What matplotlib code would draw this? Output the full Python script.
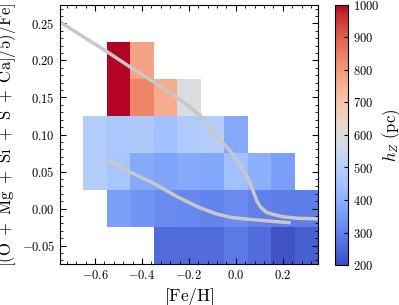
import numpy as np
import matplotlib
matplotlib.use('Agg')
import matplotlib.pyplot as plt
from matplotlib.ticker import AutoMinorLocator, MultipleLocator

plt.rcParams['font.family'] = 'serif'
plt.rcParams['font.serif'] = ['cmr10']
plt.rcParams['mathtext.fontset'] = 'cm'
plt.rcParams['axes.formatter.use_mathtext'] = True

# bin edges
feh_edges = np.arange(-0.65, 0.36, 0.1)
alpha_edges = np.arange(-0.075, 0.226, 0.05)

# scale height h_Z (pc) per bin, rows from low to high [alpha/Fe]
nan = np.nan
hz_m005 = [nan, nan, nan, 262, 258, 262, 285, 262, 215, 235]
hz_p000 = [nan, 360, 340, 320, 315, 305, 320, 298, 292, 292]
hz_p005 = [490, 462, 385, 372, 385, 378, 445, 400, 362, nan]
hz_p010 = [490, 470, 478, 448, 480, 492, 385, nan, nan, nan]
hz_p015 = [nan, 1000, 840, 760, 590, nan, nan, nan, nan, nan]
hz_p020 = [nan, 1000, 780, nan, nan, nan, nan, nan, nan, nan]

# model tracks
track1_feh = [-0.75, -0.55, -0.45, -0.35, -0.25, -0.2, -0.15, -0.1, -0.05, -0.017,
              0.02, 0.05, 0.072, 0.09, 0.105, 0.13, 0.16, 0.2, 0.26, 0.35]
track1_alpha = [0.252, 0.212, 0.191, 0.171, 0.150, 0.138, 0.125, 0.105, 0.087, 0.075,
                0.058, 0.042, 0.025, 0.010, 0.002, -0.005, -0.008, -0.011, -0.013, -0.014]
track2_feh = [-0.55, -0.45, -0.35, -0.25, -0.157, -0.085, -0.02, 0.055, 0.13, 0.226]
track2_alpha = [0.066, 0.049, 0.034, 0.016, 0.0016, -0.007, -0.012, -0.0145, -0.0165, -0.019]

hz = np.ma.masked_invalid(np.array([hz_m005, hz_p000, hz_p005, hz_p010, hz_p015, hz_p020]))

fig = plt.figure(figsize=(3.99, 3.05), dpi=100)
ax = fig.add_axes([0.150, 0.134, 0.647, 0.850])
cax = fig.add_axes([0.8396, 0.131, 0.032, 0.853])

mesh = ax.pcolormesh(feh_edges, alpha_edges, hz, cmap='coolwarm', vmin=200, vmax=1000)
ax.plot(track1_feh, track1_alpha, color='#c8c8c8', lw=2.5)
ax.plot(track2_feh, track2_alpha, color='#c8c8c8', lw=2.5)

ax.set_xlim(-0.75, 0.35)
ax.set_ylim(-0.075, 0.275)
ax.xaxis.set_major_locator(MultipleLocator(0.2))
ax.yaxis.set_major_locator(MultipleLocator(0.05))
ax.xaxis.set_minor_locator(AutoMinorLocator(5))
ax.yaxis.set_minor_locator(AutoMinorLocator(5))
ax.tick_params(which='both', direction='in', top=True, right=True, labelsize=9)
ax.tick_params(which='major', length=4)
ax.tick_params(which='minor', length=2)
ax.set_xlabel(r'$[\mathrm{Fe}/\mathrm{H}]$', fontsize=12.5, labelpad=3)
ax.set_ylabel(r'$[(\mathrm{O}\ +\ \mathrm{Mg}\ +\ \mathrm{Si}\ +\ \mathrm{S}\ +\ \mathrm{Ca}]/5)/\mathrm{Fe}]$',
              fontsize=12, labelpad=3)

cb = fig.colorbar(mesh, cax=cax)
cb.set_ticks(np.arange(200, 1001, 100))
cb.ax.tick_params(direction='in', length=3, labelsize=9)
cb.set_label(r'$h_Z\ \mathrm{(pc)}$', fontsize=12, labelpad=1)

fig.savefig('out.png', dpi=100)
